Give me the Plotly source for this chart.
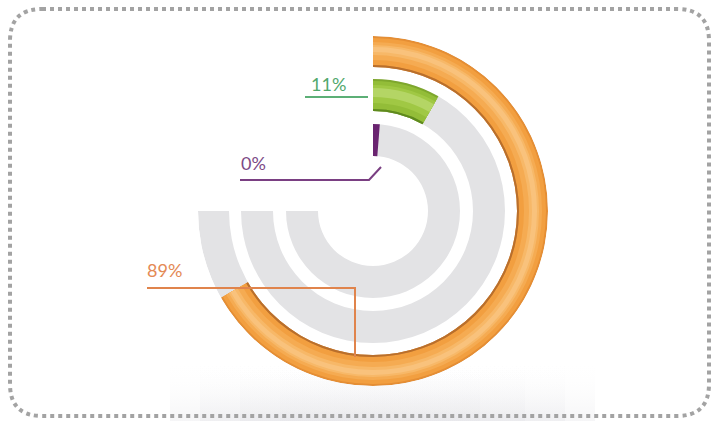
import plotly.graph_objects as go

# ---- data -------------------------------------------------------------
series_names = ["Orange", "Green", "Purple"]
values_pct = [89, 11, 0]
labels = ["89%", "11%", "0%"]

# ---- geometry (pixel units of the 715x421 canvas) ----------------------
W, H = 715, 421
CX, CY = 373, 211          # ring centre
R_MAX = 175                # outer edge of the outermost ring
SPAN = 270                 # full track sweep in degrees
MIN_SLIVER = 4.5           # smallest visible arc, in degrees
ring_base = [144, 100, 55]  # inner radius of each ring
ring_thick = [31, 32, 32]

track_color = "#e3e3e5"
# tube shading bands per ring: (offset from inner edge, thickness, colour)
tube_bands = {
    "Orange": [(0, 31, "#e58e34"), (2, 27, "#f29f40"), (7, 18, "#f5ab52"),
               (12, 10, "#f7b868"), (15, 5, "#f9c27c"), (0, 2, "#b96f2c")],
    "Green": [(0, 32, "#7ea72d"), (2, 28, "#93bd38"), (8, 18, "#a0c844"),
              (14, 9, "#b4d565"), (0, 2, "#5f8a1e")],
    "Purple": [(0, 32, "#6a2470")],
}
text_colors = ["#e48a55", "#52a86c", "#7d4a86"]
line_colors = ["#e0844c", "#5caf76", "#7a3f82"]


def px(x, y):
    """canvas pixel -> paper coordinates"""
    return x / W, 1 - y / H


fig = go.Figure()

# soft floor shadow under the chart (stacked translucent layers)
for x_a, x_b in [(170, 595), (200, 565), (240, 525), (280, 480)]:
    fig.add_trace(go.Scatter(
        x=[x_a, x_b, x_b, x_a, x_a], y=[360, 360, 421, 421, 360],
        fill="toself", mode="lines", line=dict(width=0),
        fillgradient=dict(type="vertical",
                          colorscale=[[0, "rgba(228,228,232,0.35)"],
                                      [1, "rgba(255,255,255,0)"]]),
        hoverinfo="skip", showlegend=False, xaxis="x", yaxis="y",
    ))

# gray tracks
for base, thick in zip(ring_base, ring_thick):
    fig.add_trace(go.Barpolar(
        r=[thick], base=[base], theta=[SPAN / 2], width=[SPAN],
        marker=dict(color=track_color, line=dict(width=0)),
        hoverinfo="skip", showlegend=False,
    ))

# value arcs, layered for a rounded tube look
for name, v, base in zip(series_names, values_pct, ring_base):
    sweep = max(v / 100 * SPAN, MIN_SLIVER)
    for off, t, c in tube_bands[name]:
        fig.add_trace(go.Barpolar(
            r=[t], base=[base + off], theta=[sweep / 2], width=[sweep],
            marker=dict(color=c, line=dict(width=0)),
            name=name, hoverinfo="skip", showlegend=False,
        ))

# ---- leader lines and labels ------------------------------------------
leader_paths = [
    [(147, 288), (355, 288), (355, 357)],     # 89%
    [(305, 97), (368, 97)],                   # 11%
    [(240, 180), (369, 180), (381, 167)],     # 0%
]
label_pos = [(145, 270), (309, 84), (239, 163)]

shapes = []
for pts, col in zip(leader_paths, line_colors):
    d = ""
    for i, (x, y) in enumerate(pts):
        u, w = px(x, y)
        d += ("M" if i == 0 else "L") + f"{u},{w} "
    shapes.append(dict(type="path", path=d, xref="paper", yref="paper",
                       line=dict(color=col, width=2), layer="above"))

# card outline with rounded corners
x0, y0, x1, y1, rc = 10, 9, 709, 416, 32
def P(x, y):
    u, w = px(x, y)
    return f"{u},{w}"
card = (f"M{P(x0 + rc, y0)} L{P(x1 - rc, y0)} Q{P(x1, y0)} {P(x1, y0 + rc)} "
        f"L{P(x1, y1 - rc)} Q{P(x1, y1)} {P(x1 - rc, y1)} "
        f"L{P(x0 + rc, y1)} Q{P(x0, y1)} {P(x0, y1 - rc)} "
        f"L{P(x0, y0 + rc)} Q{P(x0, y0)} {P(x0 + rc, y0)} Z")
shapes.append(dict(type="path", path=card, xref="paper", yref="paper",
                   line=dict(color="#a3a3a3", width=4, dash="dot"), layer="above"))

annotations = []
for txt, (x, y), col in zip(labels, label_pos, text_colors):
    u, w = px(x, y)
    annotations.append(dict(text=txt, x=u, y=w, xref="paper", yref="paper",
                            xanchor="left", yanchor="middle", showarrow=False,
                            font=dict(family="Lato", size=18, color=col)))

fig.update_layout(
    width=W, height=H,
    margin=dict(l=0, r=0, t=0, b=0),
    paper_bgcolor="white", plot_bgcolor="rgba(0,0,0,0)",
    xaxis=dict(range=[0, W], visible=False, domain=[0, 1], fixedrange=True),
    yaxis=dict(range=[H, 0], visible=False, domain=[0, 1], fixedrange=True),
    polar=dict(
        domain=dict(x=[(CX - R_MAX) / W, (CX + R_MAX) / W],
                    y=[(H - CY - R_MAX) / H, (H - CY + R_MAX) / H]),
        bgcolor="rgba(0,0,0,0)",
        radialaxis=dict(range=[0, R_MAX], visible=False),
        angularaxis=dict(rotation=90, direction="clockwise", visible=False),
        hole=0,
    ),
    shapes=shapes,
    annotations=annotations,
    showlegend=False,
)

fig.write_html("out.html")
